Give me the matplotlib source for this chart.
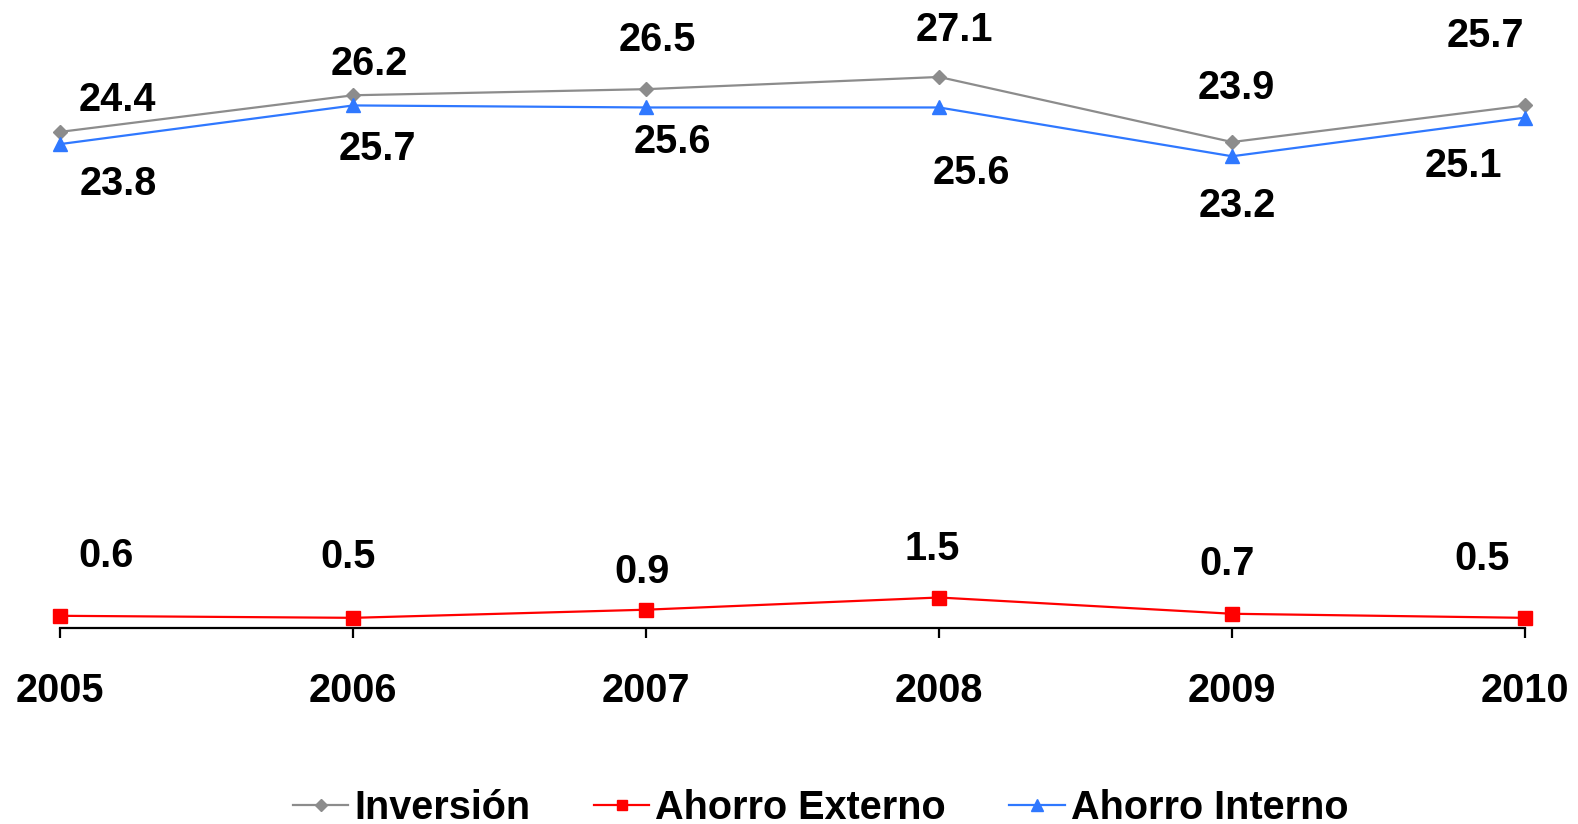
import matplotlib
matplotlib.use("Agg")
import matplotlib.pyplot as plt

years = [2005, 2006, 2007, 2008, 2009, 2010]
inversion = [24.4, 26.2, 26.5, 27.1, 23.9, 25.7]
ahorro_externo = [0.6, 0.5, 0.9, 1.5, 0.7, 0.5]
ahorro_interno = [23.8, 25.7, 25.6, 25.6, 23.2, 25.1]

# label offsets in pixels (dx, dy; dy positive = up)
off_inv = [(57, 32), (16, 31), (11, 49), (15, 47), (4, 54), (-40, 69)]
off_int = [(58, -40), (24, -44), (26, -35), (32, -66), (5, -50), (-62, -48)]
off_ext = [(46, 60), (-5, 61), (-4, 38), (-7, 48), (-5, 50), (-43, 59)]

plt.rcParams['font.family'] = ['Liberation Sans', 'DejaVu Sans']
plt.rcParams['font.weight'] = 'bold'

fig = plt.figure(figsize=(15.78, 8.24), dpi=100)
ax = fig.add_axes([60.3 / 1578, 1 - 628 / 824, (1525 - 60.3) / 1578, (628 - 18) / 824])

gray = '#8c8c8c'
red = '#ff0000'
blue = '#2f78ff'

ax.plot(years, inversion, color=gray, lw=1.6, marker='D', ms=7.5, label='Inversión', clip_on=False)
ax.plot(years, ahorro_externo, color=red, lw=1.6, marker='s', ms=9.5, label='Ahorro Externo', clip_on=False)
ax.plot(years, ahorro_interno, color=blue, lw=1.6, marker='^', ms=10, label='Ahorro Interno', clip_on=False)

fs = 28.5
for vals, offs in ((inversion, off_inv), (ahorro_interno, off_int), (ahorro_externo, off_ext)):
    for x, v, (dx, dy) in zip(years, vals, offs):
        ax.annotate(f'{v:.1f}', (x, v), xytext=(dx, dy), textcoords='offset pixels',
                    ha='center', va='center', fontsize=fs, fontweight='bold', color='black')

ax.set_xlim(2005, 2010)
ax.set_ylim(0, 30)
ax.set_xticks(years)
ax.set_xticklabels([str(y) for y in years], fontsize=fs, fontweight='bold')
ax.set_yticks([])
for s in ('left', 'right', 'top'):
    ax.spines[s].set_visible(False)
ax.spines['bottom'].set_linewidth(1.6)
ax.tick_params(axis='x', direction='out', length=7, width=1.6, pad=25)

leg = fig.legend(loc='center', bbox_to_anchor=(0.52, 0.02), ncol=3, frameon=False,
                 fontsize=fs, handlelength=1.4, handletextpad=0.15, columnspacing=1.6,
                 markerscale=0.8)

fig.savefig('out.png', dpi=100)
